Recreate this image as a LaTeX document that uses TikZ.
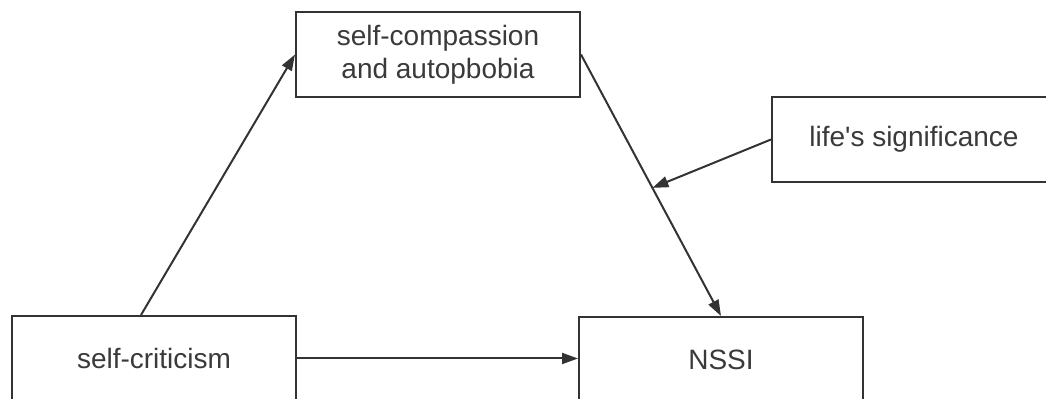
\documentclass[tikz,border=0pt]{standalone}
\usepackage{fontspec}
\setmainfont{Liberation Sans}
\usetikzlibrary{positioning, arrows.meta, calc}
\definecolor{LineGray}{HTML}{333333}
\definecolor{TextGray}{HTML}{3A3A3A}

\begin{document}
\begin{tikzpicture}[x=0.5pt, y=-0.5pt,
    box/.style={draw=LineGray, line width=1pt, minimum width=142pt, minimum height=42.5pt,
        inner sep=0pt, align=center, text=TextGray, font=\fontsize{14}{16.5}\selectfont},
    arr/.style={LineGray, line width=1pt, -{Triangle[length=8pt, width=5.5pt]}}]
    \useasboundingbox (0,0) rectangle (1046,399);
    \clip (0,0) rectangle (1046,399);

    % Boxes
    \node[box] (comp) at (438,54.5) {self-compassion\\and autopbobia};
    \node[box] (life) at (914,139.5) {life\textquotesingle s significance};
    \node[box] (crit) at (154,358.5) {self-criticism};
    \node[box] (nssi) at (721,359.5) {NSSI};

    % Paths
    \coordinate (mod) at ($(comp.east)!0.51!(nssi.north)$);
    \draw[arr] ([xshift=-6.5pt]crit.north) -- (comp.west);
    \draw[arr] (comp.east) -- (nssi.north);
    \draw[arr] (life.west) -- (mod);
    \draw[arr] (crit.east) -- (crit.east -| nssi.west);
\end{tikzpicture}
\end{document}
